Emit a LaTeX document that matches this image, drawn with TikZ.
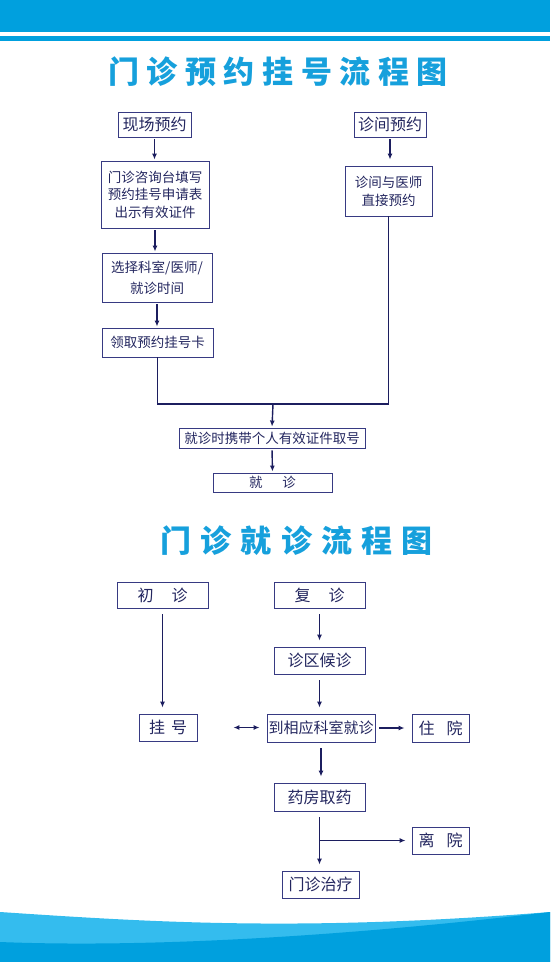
\documentclass[tikz,border=0pt]{standalone}
\usepackage{fontspec}
\setmainfont{Noto Sans CJK SC}
\newfontfamily\titlefont{Noto Sans CJK SC}
\usetikzlibrary{arrows.meta,calc}
\definecolor{bandblue}{RGB}{0,160,222}
\definecolor{waveblue}{RGB}{52,188,238}
\definecolor{titleblue}{RGB}{22,160,220}
\definecolor{boxline}{RGB}{55,58,130}
\definecolor{boxtext}{RGB}{35,38,95}
\definecolor{arrowcol}{RGB}{28,30,95}
\tikzset{
  box/.style={draw=boxline, line width=0.9pt, fill=white, text=boxtext, inner sep=0pt, align=center, font=\fontsize{16}{18}\selectfont},
  sbox/.style={box, font=\fontsize{13.5}{17.5}\selectfont},
  heading/.style={anchor=west, inner sep=0pt, text=titleblue, font=\titlefont\bfseries\fontsize{31}{33}\selectfont},
  arrow/.style={-{Latex[length=6pt,width=5pt]}, line width=1.4pt, draw=arrowcol, shorten <=2pt, shorten >=1pt},
  garrow/.style={-{Latex[length=6pt,width=5pt]}, line width=1.4pt, draw=arrowcol, shorten <=6pt, shorten >=6pt},
  joinline/.style={line width=1.4pt, draw=arrowcol},
}
\begin{document}
\begin{tikzpicture}[x=1pt, y=-1pt]
\useasboundingbox (0,0) rectangle (550,962);
% top band
\fill[bandblue] (0,0) rectangle (550,32);
\fill[bandblue] (0,36) rectangle (550,41);
% bottom waves
\fill[waveblue] (0,912) .. controls (150,922) and (300,932) .. (550,912) -- (550,962) -- (0,962) -- cycle;
\fill[bandblue] (0,942) .. controls (150,948) and (350,936) .. (550,912) -- (550,962) -- (0,962) -- cycle;

% booking chart
\node[heading] (title1) at (108,72) {\addfontfeature{LetterSpace=24.5}门诊预约挂号流程图};

\node[box, minimum width=73pt, minimum height=25pt] (xianchang) at (154.5,124.5) {现场预约};
\node[box, minimum width=72pt, minimum height=25pt] (zhenjian) at (390,124.5) {诊间预约};
\node[sbox, minimum width=108pt, minimum height=67pt] (tianxie) at (155,194.5) {门诊咨询台填写\\预约挂号申请表\\出示有效证件};
\node[sbox, minimum width=87pt, minimum height=50pt, font=\fontsize{13.5}{18}\selectfont] (yishi) at (388.5,191) {诊间与医师\\直接预约};
\node[sbox, minimum width=110pt, minimum height=49pt, font=\fontsize{13.5}{21}\selectfont] (xuanze) at (157,277.5) {选择科室/医师/\\就诊时间};
\node[sbox, minimum width=111pt, minimum height=29pt] (lingqu) at (157.5,342.5) {领取预约挂号卡};
\node[sbox, minimum width=186pt, minimum height=20pt] (quhao) at (272,438) {就诊时携带个人有效证件取号};
\node[sbox, minimum width=119pt, minimum height=19pt] (jiuzhen) at (272.5,482.5) {就\hspace{20pt}诊};
\coordinate (join) at (273,404);

\draw[arrow] (xianchang.south) -- (xianchang.south |- tianxie.north);
\draw[arrow] (tianxie.south) -- (tianxie.south |- xuanze.north);
\draw[arrow] (xuanze.south) -- (xuanze.south |- lingqu.north);
\draw[arrow, shorten >=6pt] (zhenjian.south) -- (zhenjian.south |- yishi.north);
\draw[joinline] (lingqu.south) |- (join) -| (yishi.south);
\draw[arrow, shorten <=0pt] (join) -- (quhao.north);
\draw[arrow] (quhao.south) -- (jiuzhen.north);

% visit chart
\node[heading] (title2) at (160,541) {\addfontfeature{LetterSpace=30}门诊就诊流程图};

\node[box, minimum width=91pt, minimum height=26pt] (chuzhen) at (162.5,595) {初\hspace{18pt}诊};
\node[box, minimum width=91pt, minimum height=26pt] (fuzhen) at (319.5,595) {复\hspace{18pt}诊};
\node[box, minimum width=91pt, minimum height=27pt] (houzhen) at (319.5,660.5) {诊区候诊};
\node[box, minimum width=58pt, minimum height=27pt] (guahao) at (168,727.5) {挂\hspace{6pt}号};
\node[box, minimum width=108pt, minimum height=28pt, font=\fontsize{15}{17}\selectfont] (keshi) at (321,728) {到相应科室就诊};
\node[box, minimum width=57pt, minimum height=28pt] (zhuyuan) at (440.5,728) {住\hspace{12pt}院};
\node[box, minimum width=91pt, minimum height=28pt] (quyao) at (319.5,797) {药房取药};
\node[box, minimum width=57pt, minimum height=27pt] (liyuan) at (440.5,840.5) {离\hspace{12pt}院};
\node[box, minimum width=77pt, minimum height=27pt] (zhiliao) at (320.5,884.5) {门诊治疗};

\draw[garrow] (chuzhen.south) -- (chuzhen.south |- guahao.north);
\draw[garrow] (fuzhen.south) -- (houzhen.north);
\draw[garrow] (houzhen.south) -- (houzhen.south |- keshi.north);
\draw[{Latex[length=6pt,width=5pt]}-{Latex[length=6pt,width=5pt]}, line width=1.4pt, draw=arrowcol, shorten <=36pt, shorten >=7pt] (guahao.east) -- (guahao.east -| keshi.west);
\draw[garrow, shorten <=4pt, shorten >=7pt] (keshi.east) -- (keshi.east -| zhuyuan.west);
\draw[garrow] (keshi.south) -- (keshi.south |- quyao.north);
\draw[garrow] (quyao.south) -- (quyao.south |- zhiliao.north);
\draw[garrow, shorten <=0pt] (quyao.south |- liyuan.west) -- (liyuan.west);
\end{tikzpicture}
\end{document}
